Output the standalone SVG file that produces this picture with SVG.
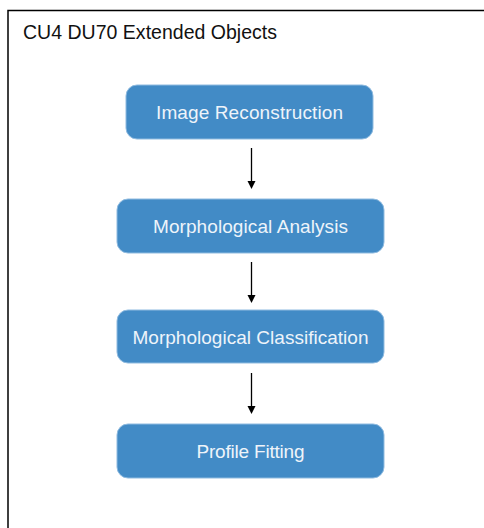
<svg xmlns="http://www.w3.org/2000/svg" width="484" height="528" viewBox="0 0 484 528">
<style>
.frame{fill:none;stroke:#000;stroke-width:1.5}
.node rect{fill:#428bc6;stroke:#8fbbe0;stroke-width:1}
.node text{fill:#eef4fa;font-family:"Liberation Sans",Arial,sans-serif;font-size:19px;text-anchor:middle}
.title{fill:#111;font-family:"Liberation Sans",Arial,sans-serif;font-size:19.5px}
.conn line{stroke:#000;stroke-width:1.3}
</style>
<rect width="484" height="528" fill="#fff"/>
<path class="frame" d="M8,560 L8,10.5 L500,10.5"/>
<text class="title" x="23" y="39" textLength="254">CU4 DU70 Extended Objects</text>
<g class="conn">
<line x1="251.5" y1="148" x2="251.5" y2="181"/>
<path d="M247.5,181 L255.5,181 L251.5,189 z"/>
<line x1="251.5" y1="262" x2="251.5" y2="295"/>
<path d="M247.5,295 L255.5,295 L251.5,303 z"/>
<line x1="251.5" y1="373" x2="251.5" y2="406"/>
<path d="M247.5,406 L255.5,406 L251.5,414 z"/>
</g>
<g id="image-reconstruction" class="node">
<rect x="126" y="85" width="247" height="54" rx="11"/>
<text x="249.5" y="119" textLength="187">Image Reconstruction</text>
</g>
<g id="morphological-analysis" class="node">
<rect x="117" y="199" width="267" height="54" rx="11"/>
<text x="250.5" y="233" textLength="195">Morphological Analysis</text>
</g>
<g id="morphological-classification" class="node">
<rect x="117" y="310" width="267" height="53" rx="11"/>
<text x="250.5" y="343.5" textLength="236">Morphological Classification</text>
</g>
<g id="profile-fitting" class="node">
<rect x="117" y="424" width="267" height="54" rx="11"/>
<text x="250.5" y="458" textLength="108">Profile Fitting</text>
</g>
</svg>
